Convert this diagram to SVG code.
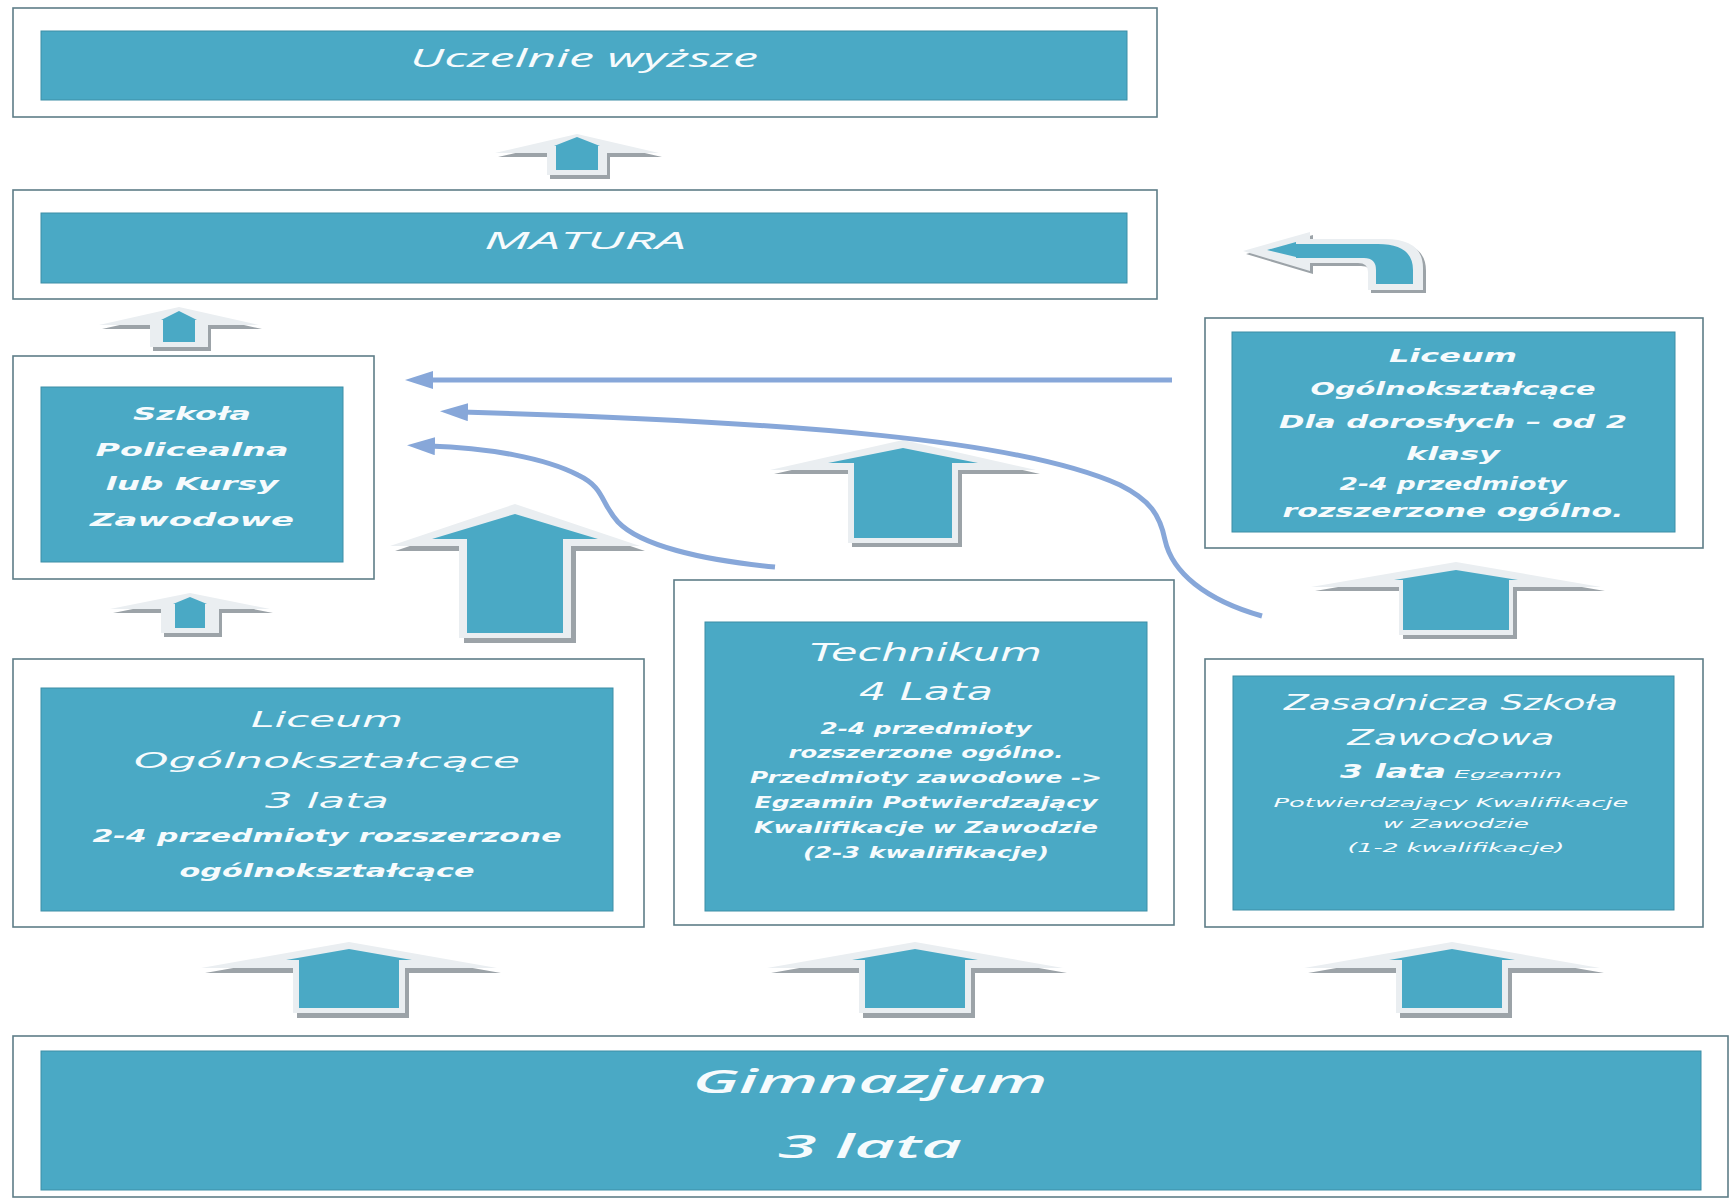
<svg xmlns="http://www.w3.org/2000/svg" width="1735" height="1199" viewBox="0 0 1735 1199">
<style>
.outer{fill:#ffffff;stroke:#5e7d88;stroke-width:1.6}
.inner{fill:#4aa9c5;stroke:#3d8ea6;stroke-width:1}
.t{font-family:"DejaVu Sans",Verdana,sans-serif;font-style:italic;fill:#f6fbfd;text-anchor:middle}
.o{font-family:"Open Sans","DejaVu Sans",sans-serif;font-style:italic;fill:#f6fbfd;text-anchor:middle}
.b{font-weight:bold}
.ash{fill:#9ca3a8}
.aout{fill:#eaeef1}
.ain{fill:#4aa9c5}
.curve{fill:none;stroke:#87a7d9;stroke-width:5;marker-end:url(#ah)}
</style>
<defs>
<marker id="ah" markerUnits="userSpaceOnUse" markerWidth="32" markerHeight="20" refX="6" refY="9" orient="auto">
<path d="M0,0 L28,9 L0,18 Z" fill="#87a7d9"/>
</marker>
</defs>
<rect width="1735" height="1199" fill="#ffffff"/>

<g id="uczelnie">
<rect class="outer" x="13" y="8" width="1144" height="109"/>
<rect class="inner" x="41" y="31" width="1086" height="69"/>
<text class="o" x="584" y="67" font-size="25" textLength="348" lengthAdjust="spacingAndGlyphs">Uczelnie wyższe</text>
</g>

<g id="matura">
<rect class="outer" x="13" y="190" width="1144" height="109"/>
<rect class="inner" x="41" y="213" width="1086" height="70"/>
<text class="o" x="585" y="249" font-size="23" textLength="202" lengthAdjust="spacingAndGlyphs">MATURA</text>
</g>

<g id="szkola-policealna">
<rect class="outer" x="13" y="356" width="361" height="223"/>
<rect class="inner" x="41" y="387" width="302" height="175"/>
<text class="t b" x="192" y="420" font-size="18" textLength="118" lengthAdjust="spacingAndGlyphs">Szkoła</text>
<text class="t b" x="192" y="456" font-size="18" textLength="193" lengthAdjust="spacingAndGlyphs">Policealna</text>
<text class="t b" x="192" y="490" font-size="18" textLength="173" lengthAdjust="spacingAndGlyphs">lub Kursy</text>
<text class="t b" x="192" y="526" font-size="18" textLength="204" lengthAdjust="spacingAndGlyphs">Zawodowe</text>
</g>

<g id="liceum-dorosli">
<rect class="outer" x="1205" y="318" width="498" height="230"/>
<rect class="inner" x="1232" y="332" width="443" height="200"/>
<text class="t b" x="1453" y="362" font-size="18" textLength="128" lengthAdjust="spacingAndGlyphs">Liceum</text>
<text class="t b" x="1453" y="395" font-size="18" textLength="285" lengthAdjust="spacingAndGlyphs">Ogólnokształcące</text>
<text class="t b" x="1453" y="428" font-size="18" textLength="348" lengthAdjust="spacingAndGlyphs">Dla dorosłych – od 2</text>
<text class="t b" x="1453" y="460" font-size="18" textLength="94" lengthAdjust="spacingAndGlyphs">klasy</text>
<text class="t b" x="1453" y="490" font-size="18" textLength="227" lengthAdjust="spacingAndGlyphs">2-4 przedmioty</text>
<text class="t b" x="1453" y="517" font-size="18" textLength="341" lengthAdjust="spacingAndGlyphs">rozszerzone ogólno.</text>
</g>

<g id="liceum">
<rect class="outer" x="13" y="659" width="631" height="268"/>
<rect class="inner" x="41" y="688" width="572" height="223"/>
<text class="t" x="327" y="727" font-size="22" textLength="152" lengthAdjust="spacingAndGlyphs">Liceum</text>
<text class="t" x="327" y="768" font-size="22" textLength="386" lengthAdjust="spacingAndGlyphs">Ogólnokształcące</text>
<text class="t" x="327" y="808" font-size="22" textLength="124" lengthAdjust="spacingAndGlyphs">3 lata</text>
<text class="t b" x="327" y="842" font-size="17" textLength="469" lengthAdjust="spacingAndGlyphs">2-4 przedmioty rozszerzone</text>
<text class="t b" x="327" y="877" font-size="17" textLength="295" lengthAdjust="spacingAndGlyphs">ogólnokształcące</text>
</g>

<g id="technikum">
<rect class="outer" x="674" y="580" width="500" height="345"/>
<rect class="inner" x="705" y="622" width="442" height="289"/>
<text class="t" x="926" y="661" font-size="24" textLength="232" lengthAdjust="spacingAndGlyphs">Technikum</text>
<text class="t" x="926" y="700" font-size="24" textLength="134" lengthAdjust="spacingAndGlyphs">4 Lata</text>
<text class="t b" x="926" y="734" font-size="15" textLength="211" lengthAdjust="spacingAndGlyphs">2-4 przedmioty</text>
<text class="t b" x="926" y="758" font-size="15" textLength="275" lengthAdjust="spacingAndGlyphs">rozszerzone ogólno.</text>
<text class="t b" x="926" y="783" font-size="15" textLength="352" lengthAdjust="spacingAndGlyphs">Przedmioty zawodowe -&gt;</text>
<text class="t b" x="926" y="808" font-size="15" textLength="343" lengthAdjust="spacingAndGlyphs">Egzamin Potwierdzający</text>
<text class="t b" x="926" y="833" font-size="15" textLength="344" lengthAdjust="spacingAndGlyphs">Kwalifikacje w Zawodzie</text>
<text class="t b" x="926" y="858" font-size="15" textLength="246" lengthAdjust="spacingAndGlyphs">(2-3 kwalifikacje)</text>
</g>

<g id="zasadnicza">
<rect class="outer" x="1205" y="659" width="498" height="268"/>
<rect class="inner" x="1233" y="676" width="441" height="234"/>
<text class="t" x="1451" y="710" font-size="21" textLength="334" lengthAdjust="spacingAndGlyphs">Zasadnicza Szkoła</text>
<text class="t" x="1451" y="745" font-size="21" textLength="207" lengthAdjust="spacingAndGlyphs">Zawodowa</text>
<text class="t b" x="1393" y="778" font-size="19" textLength="106" lengthAdjust="spacingAndGlyphs">3 lata</text>
<text class="t" x="1508" y="778" font-size="11" textLength="108" lengthAdjust="spacingAndGlyphs">Egzamin</text>
<text class="t" x="1451" y="807" font-size="13" textLength="355" lengthAdjust="spacingAndGlyphs">Potwierdzający Kwalifikacje</text>
<text class="t" x="1456" y="828" font-size="13" textLength="146" lengthAdjust="spacingAndGlyphs">w Zawodzie</text>
<text class="t" x="1456" y="852" font-size="13" textLength="217" lengthAdjust="spacingAndGlyphs">(1-2 kwalifikacje)</text>
</g>

<g id="gimnazjum">
<rect class="outer" x="13" y="1036" width="1715" height="161"/>
<rect class="inner" x="41" y="1051" width="1660" height="139"/>
<text class="o" x="870" y="1093" font-size="32" font-weight="600" textLength="355" lengthAdjust="spacingAndGlyphs">Gimnazjum</text>
<text class="o" x="870" y="1158" font-size="32" font-weight="600" textLength="184" lengthAdjust="spacingAndGlyphs">3 lata</text>
</g>

<g id="connectors">
<!-- block arrows: shadow, light outer, blue inner -->
<g transform="translate(577 0)">
<polygon class="ash" transform="translate(3 4)" points="0,134 82,153 30,153 30,175 -30,175 -30,153 -82,153"/>
<polygon class="aout" points="0,134 82,153 30,153 30,175 -30,175 -30,153 -82,153"/>
<polygon class="ain" points="0,137 23,146 21,146 21,170 -21,170 -21,146 -23,146"/>
</g>
<g transform="translate(179 0)">
<polygon class="ash" transform="translate(3 4)" points="0,307 80,325 29,325 29,347 -29,347 -29,325 -80,325"/>
<polygon class="aout" points="0,307 80,325 29,325 29,347 -29,347 -29,325 -80,325"/>
<polygon class="ain" points="0,311 18,320 16,320 16,342 -16,342 -16,320 -18,320"/>
</g>
<g transform="translate(190 0)">
<polygon class="ash" transform="translate(3 4)" points="0,593 80,609 29,609 29,633 -29,633 -29,609 -80,609"/>
<polygon class="aout" points="0,593 80,609 29,609 29,633 -29,633 -29,609 -80,609"/>
<polygon class="ain" points="0,597 17,604 15,604 15,628 -15,628 -15,604 -17,604"/>
</g>
<g transform="translate(515 0)">
<polygon class="ash" transform="translate(5 5)" points="0,504 125,546 56,546 56,638 -56,638 -56,546 -125,546"/>
<polygon class="aout" points="0,504 125,546 56,546 56,638 -56,638 -56,546 -125,546"/>
<polygon class="ain" points="0,514 83,539 48,539 48,633 -48,633 -48,539 -83,539"/>
</g>
<g transform="translate(903 0)">
<polygon class="ash" transform="translate(4 4)" points="0,440 133,470 55,470 55,543 -55,543 -55,470 -133,470"/>
<polygon class="aout" points="0,440 133,470 55,470 55,543 -55,543 -55,470 -133,470"/>
<polygon class="ain" points="0,448 75,463 49,463 49,538 -49,538 -49,463 -75,463"/>
</g>
<g transform="translate(1456 0)">
<polygon class="ash" transform="translate(4 4)" points="0,562 145,587 57,587 57,635 -57,635 -57,587 -145,587"/>
<polygon class="aout" points="0,562 145,587 57,587 57,635 -57,635 -57,587 -145,587"/>
<polygon class="ain" points="0,570 62,580 53,580 53,630 -53,630 -53,580 -62,580"/>
</g>
<g transform="translate(349 0)">
<polygon class="ash" transform="translate(4 5)" points="0,942 148,968 56,968 56,1013 -56,1013 -56,968 -148,968"/>
<polygon class="aout" points="0,942 148,968 56,968 56,1013 -56,1013 -56,968 -148,968"/>
<polygon class="ain" points="0,949 63,960 50,960 50,1008 -50,1008 -50,960 -63,960"/>
</g>
<g transform="translate(915 0)">
<polygon class="ash" transform="translate(4 5)" points="0,942 148,968 56,968 56,1013 -56,1013 -56,968 -148,968"/>
<polygon class="aout" points="0,942 148,968 56,968 56,1013 -56,1013 -56,968 -148,968"/>
<polygon class="ain" points="0,949 63,960 50,960 50,1008 -50,1008 -50,960 -63,960"/>
</g>
<g transform="translate(1452 0)">
<polygon class="ash" transform="translate(4 5)" points="0,942 148,968 56,968 56,1013 -56,1013 -56,968 -148,968"/>
<polygon class="aout" points="0,942 148,968 56,968 56,1013 -56,1013 -56,968 -148,968"/>
<polygon class="ain" points="0,949 63,960 50,960 50,1008 -50,1008 -50,960 -63,960"/>
</g>
<!-- U-turn arrow -->
<g>
<path class="ash" transform="translate(3 3)" d="M1243,251 L1310,232 L1310,239 L1385,239 Q1423,239 1423,268 L1423,290 L1368,290 L1368,272 Q1368,263 1358,263 L1310,263 L1310,271 Z"/>
<path class="aout" d="M1243,251 L1310,232 L1310,239 L1385,239 Q1423,239 1423,268 L1423,290 L1368,290 L1368,272 Q1368,263 1358,263 L1310,263 L1310,271 Z"/>
<path class="ain" d="M1267,250 L1296,242 L1296,244 L1378,244 Q1413,244 1413,270 L1413,284 L1376,284 L1376,270 Q1376,258 1364,258 L1296,258 L1296,257 Z"/>
</g>
<!-- curved connectors to Szkoła Policealna -->
<path class="curve" d="M1172,380 L427,380"/>
<path class="curve" d="M1262,616 C1205,600 1172,572 1165,540 C1160,515 1150,500 1120,485 C1020,440 800,422 462,412"/>
<path class="curve" d="M775,567 C700,560 640,545 618,522 C600,502 605,488 578,475 C545,458 490,448 429,446"/>
</g>
</svg>
